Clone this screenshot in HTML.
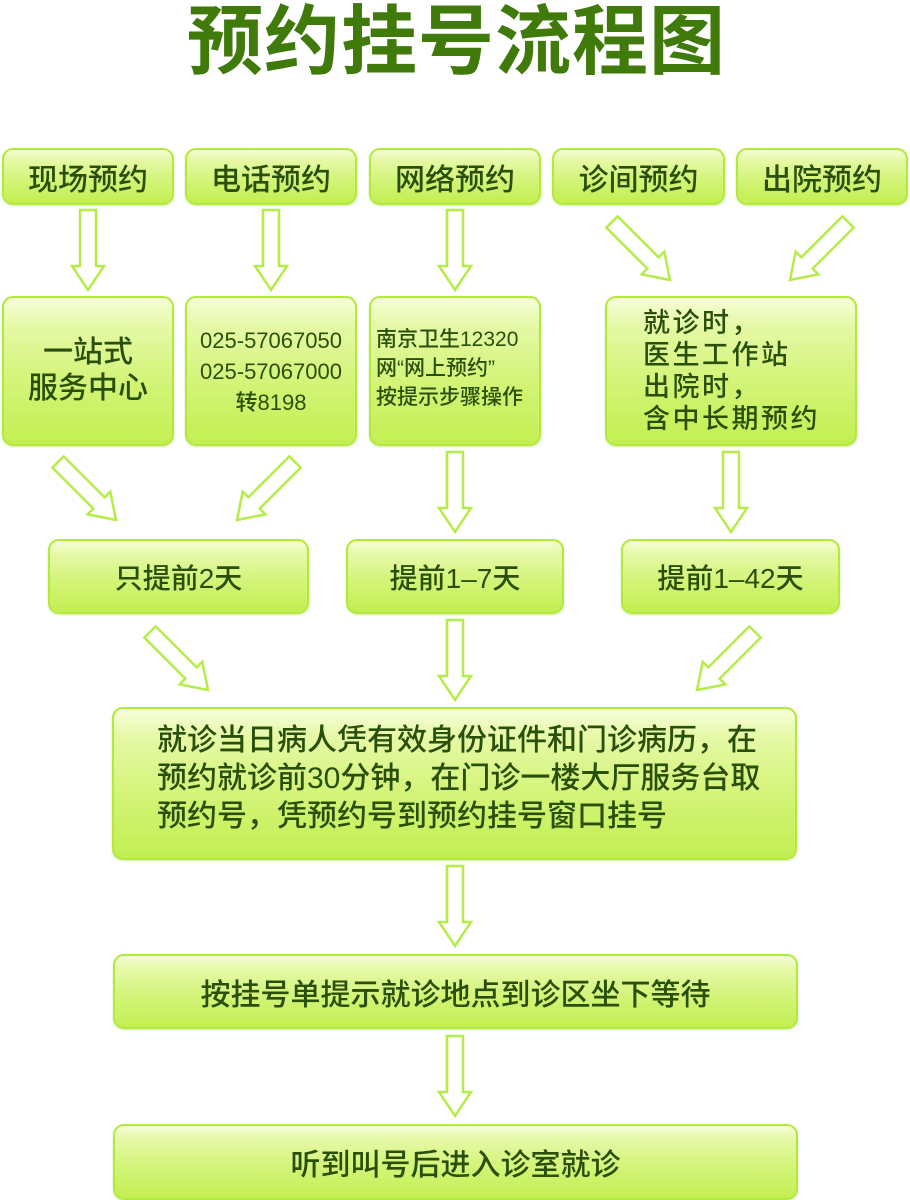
<!DOCTYPE html>
<html><head><meta charset="utf-8"><style>
body{margin:0;width:910px;height:1200px;background:#fff;position:relative;overflow:hidden;font-family:"Liberation Sans","Noto Sans CJK SC",sans-serif;}
.b{position:absolute;box-sizing:border-box;border:2px solid #b2ea3c;border-radius:11px;background:linear-gradient(to bottom,#f6fdd8 0%,#e6f9a8 18%,#d4f47a 55%,#c3ef52 100%);color:#2a4f0a;font-weight:500;display:flex;align-items:center;justify-content:center;text-align:center;box-shadow:0 1px 2px rgba(150,200,60,.4);white-space:nowrap;}
.t{position:absolute;white-space:nowrap;}
svg{position:absolute;left:0;top:0;}
</style></head><body>
<div class="t" style="left:187px;top:-20px;font-size:76px;font-weight:bold;color:#3f7a0a;letter-spacing:1px;font-family:'Noto Sans CJK SC',sans-serif;">预约挂号流程图</div>

<div class="b" style="left:2px;top:148px;width:172px;height:57px;font-size:30px;">现场预约</div>
<div class="b" style="left:185px;top:148px;width:172px;height:57px;font-size:30px;">电话预约</div>
<div class="b" style="left:369px;top:148px;width:172px;height:57px;font-size:30px;">网络预约</div>
<div class="b" style="left:552px;top:148px;width:173px;height:57px;font-size:30px;">诊间预约</div>
<div class="b" style="left:736px;top:148px;width:172px;height:57px;font-size:30px;">出院预约</div>

<div class="b" style="left:2px;top:296px;width:172px;height:150px;font-size:30px;line-height:36px;">一站式<br>服务中心</div>
<div class="b" style="left:185px;top:296px;width:172px;height:150px;font-size:22px;line-height:31px;">025-57067050<br>025-57067000<br>转8198</div>
<div class="b" style="left:369px;top:296px;width:172px;height:150px;font-size:21px;line-height:29px;text-align:left;justify-content:flex-start;padding-left:5px;padding-bottom:6px;">南京卫生12320<br>网“网上预约”<br>按提示步骤操作</div>
<div class="b" style="left:605px;top:296px;width:252px;height:150px;font-size:27px;line-height:32px;letter-spacing:2.5px;text-align:left;justify-content:flex-start;padding-left:36px;">就诊时，<br>医生工作站<br>出院时，<br>含中长期预约</div>

<div class="b" style="left:48px;top:539px;width:261px;height:75px;font-size:28px;">只提前2天</div>
<div class="b" style="left:346px;top:539px;width:218px;height:75px;font-size:28px;">提前1–7天</div>
<div class="b" style="left:621px;top:539px;width:219px;height:75px;font-size:28px;">提前1–42天</div>

<div class="b" style="left:112px;top:707px;width:685px;height:153px;font-size:30px;line-height:38px;text-align:left;justify-content:flex-start;padding-left:43px;padding-bottom:10px;">就诊当日病人凭有效身份证件和门诊病历，在<br>预约就诊前30分钟，在门诊一楼大厅服务台取<br>预约号，凭预约号到预约挂号窗口挂号</div>
<div class="b" style="left:113px;top:954px;width:685px;height:75px;font-size:30px;">按挂号单提示就诊地点到诊区坐下等待</div>
<div class="b" style="left:113px;top:1124px;width:685px;height:76px;font-size:30px;">听到叫号后进入诊室就诊</div>

<svg width="910" height="1200" viewBox="0 0 910 1200">
<g fill="#fff" stroke="#b5ec4a" stroke-width="2.5" stroke-linejoin="miter">
<polygon transform="translate(88,210)" points="-8,0 8,0 8,56 16,56 0,80 -16,56 -8,56"/>
<polygon transform="translate(271,210)" points="-8,0 8,0 8,56 16,56 0,80 -16,56 -8,56"/>
<polygon transform="translate(455,210)" points="-8,0 8,0 8,56 16,56 0,80 -16,56 -8,56"/>
<polygon transform="translate(612,222) rotate(-45)" points="-8,0 8,0 8,58 16,58 0,82 -16,58 -8,58"/>
<polygon transform="translate(848,222) rotate(45)" points="-8,0 8,0 8,58 16,58 0,82 -16,58 -8,58"/>

<polygon transform="translate(58,462) rotate(-45)" points="-8,0 8,0 8,58 16,58 0,82 -16,58 -8,58"/>
<polygon transform="translate(295,462) rotate(45)" points="-8,0 8,0 8,58 16,58 0,82 -16,58 -8,58"/>
<polygon transform="translate(455,452)" points="-8,0 8,0 8,56 16,56 0,80 -16,56 -8,56"/>
<polygon transform="translate(731,452)" points="-8,0 8,0 8,56 16,56 0,80 -16,56 -8,56"/>

<polygon transform="translate(150,632) rotate(-45)" points="-8,0 8,0 8,58 16,58 0,82 -16,58 -8,58"/>
<polygon transform="translate(455,620)" points="-8,0 8,0 8,56 16,56 0,80 -16,56 -8,56"/>
<polygon transform="translate(755,632) rotate(45)" points="-8,0 8,0 8,58 16,58 0,82 -16,58 -8,58"/>

<polygon transform="translate(455,866)" points="-8,0 8,0 8,56 16,56 0,80 -16,56 -8,56"/>
<polygon transform="translate(455,1036)" points="-8,0 8,0 8,56 16,56 0,80 -16,56 -8,56"/>
</g>
</svg>
</body></html>
